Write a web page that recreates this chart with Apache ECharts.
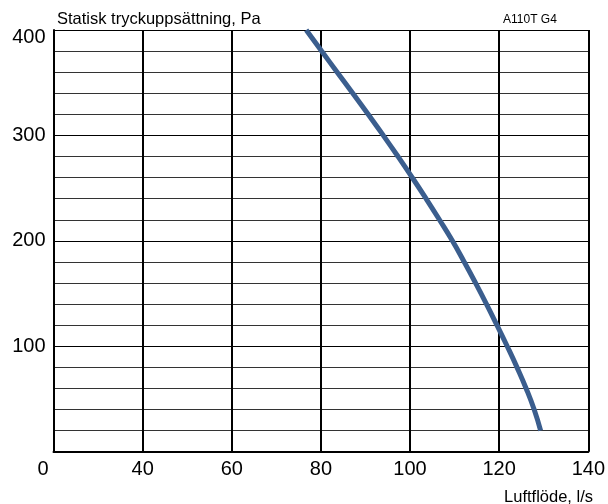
<!DOCTYPE html>
<html>
<head>
<meta charset="utf-8">
<script src="https://cdn.jsdelivr.net/npm/echarts@6/dist/echarts.min.js"></script>
<style>html,body{margin:0;padding:0;background:#fff}#c{width:608px;height:504px}</style>
</head>
<body>
<div id="c"></div>
<script>
// Curve data: airflow (l/s) and static pressure (Pa)
const flow = [76.7, 80.15, 83.65, 87.15, 90.6, 94.0, 97.3, 100.5, 103.6, 106.6, 109.5, 112.15, 114.7, 117.15, 119.5, 121.8, 124.0, 126.05, 127.85, 129.3];
const pressure = [400, 380, 360, 340, 320, 300, 280, 260, 240, 220, 200, 180, 160, 140, 120, 100, 80, 60, 40, 20];
const xTicks = [20, 40, 60, 80, 100, 120, 140];
const yTicks = [0, 100, 200, 300, 400];
const yTitle = 'Statisk tryckuppsättning, Pa';
const xTitle = 'Luftflöde, l/s';
const modelName = 'A110T G4';

const font = 'Liberation Sans, Arial, Helvetica, sans-serif';
const chart = echarts.init(document.getElementById('c'), null, {renderer: 'canvas'});
chart.setOption({
  animation: false,
  backgroundColor: '#fff',
  title: [
    {text: yTitle, left: 57, top: 11, padding: 0, textStyle: {fontFamily: font, fontSize: 16.5, fontWeight: 'normal', color: '#000'}},
    {text: modelName, left: 503, top: 14, padding: 0, textStyle: {fontFamily: font, fontSize: 12, fontWeight: 'normal', color: '#000'}},
    {text: xTitle, right: 15, top: 489, padding: 0, textStyle: {fontFamily: font, fontSize: 16.5, fontWeight: 'normal', color: '#000'}}
  ],
  grid: {left: 53.5, right: 19, top: 30, bottom: 52.3, show: false},
  xAxis: {
    type: 'value', min: xTicks[0], max: xTicks[xTicks.length - 1], interval: 20,
    axisLine: {show: true, lineStyle: {color: '#000', width: 2}},
    axisTick: {show: false},
    axisLabel: {
      margin: 8, fontFamily: font, fontSize: 20, color: '#000',
      formatter: v => v === xTicks[0] ? '{o|0}' : String(v),
      rich: {o: {fontFamily: font, fontSize: 20, color: '#000', padding: [0, 21, 6, 0]}}
    },
    splitLine: {show: true, lineStyle: {color: '#000', width: 2}}
  },
  yAxis: {
    type: 'value', min: yTicks[0], max: yTicks[yTicks.length - 1], interval: 20,
    axisLine: {show: true, lineStyle: {color: '#000', width: 2}},
    axisTick: {show: false},
    axisLabel: {
      margin: 8, fontFamily: font, fontSize: 20, color: '#000',
      formatter: v => (v % 100 === 0 && v !== 0) ? (v === 400 ? '{t|' + v + '}' : String(v)) : '',
      rich: {t: {fontFamily: font, fontSize: 20, color: '#000', padding: [14, 0, 0, 0]}}
    },
    splitLine: {show: true, lineStyle: {color: ['#000', '#333', '#333', '#333', '#333'], width: 1}}
  },
  series: [{
    type: 'line',
    data: flow.map((x, i) => [x, pressure[i]]),
    smooth: 0.5,
    showSymbol: false,
    lineStyle: {color: '#3b5e8e', width: 5, cap: 'butt'}
  }]
});
</script>
</body>
</html>
